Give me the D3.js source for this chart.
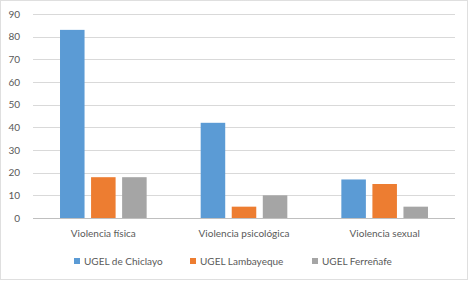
<!DOCTYPE html>
<html>
<head>
<meta charset="utf-8">
<script src="https://cdn.jsdelivr.net/npm/d3@7"></script>
<style>
  body { margin: 0; background: #fff; }
  text { font-family: Lato, "Open Sans", sans-serif; fill: #595959; }
</style>
</head>
<body>
<div id="chart"></div>
<script>
// Data
const categories = ["Violencia física", "Violencia psicológica", "Violencia sexual"];
const seriesNames = ["UGEL de Chiclayo", "UGEL Lambayeque", "UGEL Ferreñafe"];
const chiclayo = [83, 42, 17];
const lambayeque = [18, 5, 15];
const ferrenafe = [18, 10, 5];
const yTicks = [0, 10, 20, 30, 40, 50, 60, 70, 80, 90];

const colors = ['#5b9bd5', '#ed7d31', '#a5a5a5'];
const seriesValues = [chiclayo, lambayeque, ferrenafe];

const width = 471, height = 282;
const margin = {left: 33, right: 16, top: 14, bottom: 64};

const svg = d3.select("#chart").append("svg")
    .attr("width", width)
    .attr("height", height);

// outer border
svg.append("rect")
    .attr("x", 0.5).attr("y", 0.5)
    .attr("width", width - 4).attr("height", height - 3)
    .attr("fill", "none")
    .attr("stroke", "#bfbfbf")
    .attr("stroke-dasharray", "1,1");

const x = d3.scaleBand()
    .domain(categories)
    .range([margin.left, width - margin.right]);

const xInner = d3.scaleBand()
    .domain(seriesNames)
    .range([0, x.bandwidth()])
    .paddingInner(0.21)
    .paddingOuter(0.87);

const y = d3.scaleLinear()
    .domain([0, 90])
    .range([height - margin.bottom, margin.top]);

// gridlines
svg.append("g")
    .selectAll("line")
    .data(yTicks)
    .enter()
    .append("line")
    .attr("x1", margin.left)
    .attr("x2", width - margin.right)
    .attr("y1", d => Math.round(y(d)) + 0.5)
    .attr("y2", d => Math.round(y(d)) + 0.5)
    .attr("stroke", "#d9d9d9")
    .attr("stroke-width", 1);

// y labels
svg.append("g")
    .selectAll("text")
    .data(yTicks)
    .enter()
    .append("text")
    .attr("x", 20)
    .attr("y", d => y(d) + 3.5)
    .attr("text-anchor", "end")
    .style("font-size", "10px")
    .text(d => d);

// bars
const groups = svg.append("g")
    .selectAll("g")
    .data(categories)
    .enter()
    .append("g")
    .attr("transform", d => `translate(${x(d)},0)`);

groups.selectAll("rect")
    .data((d, i) => seriesNames.map((s, j) => ({series: s, value: seriesValues[j][i], color: colors[j]})))
    .enter()
    .append("rect")
    .attr("x", d => xInner(d.series))
    .attr("y", d => y(d.value))
    .attr("width", xInner.bandwidth())
    .attr("height", d => y(0) - y(d.value))
    .attr("fill", d => d.color);

// x axis line
svg.append("line")
    .attr("x1", margin.left)
    .attr("x2", width - margin.right)
    .attr("y1", Math.round(y(0)) + 0.5)
    .attr("y2", Math.round(y(0)) + 0.5)
    .attr("stroke", "#bfbfbf");

// category labels
svg.append("g")
    .selectAll("text")
    .data(categories)
    .enter()
    .append("text")
    .attr("x", d => x(d) + x.bandwidth() / 2)
    .attr("y", 237)
    .attr("text-anchor", "middle")
    .style("font-size", "10px")
    .text(d => d);

// legend
const legendX = [74, 190, 312];
const legend = svg.append("g")
    .selectAll("g")
    .data(seriesNames)
    .enter()
    .append("g")
    .attr("transform", (d, i) => `translate(${legendX[i]},258)`);

legend.append("rect")
    .attr("width", 6).attr("height", 6)
    .attr("fill", (d, i) => colors[i]);

legend.append("text")
    .attr("x", 10)
    .attr("y", 7)
    .style("font-size", "10px")
    .text(d => d);
</script>
</body>
</html>
